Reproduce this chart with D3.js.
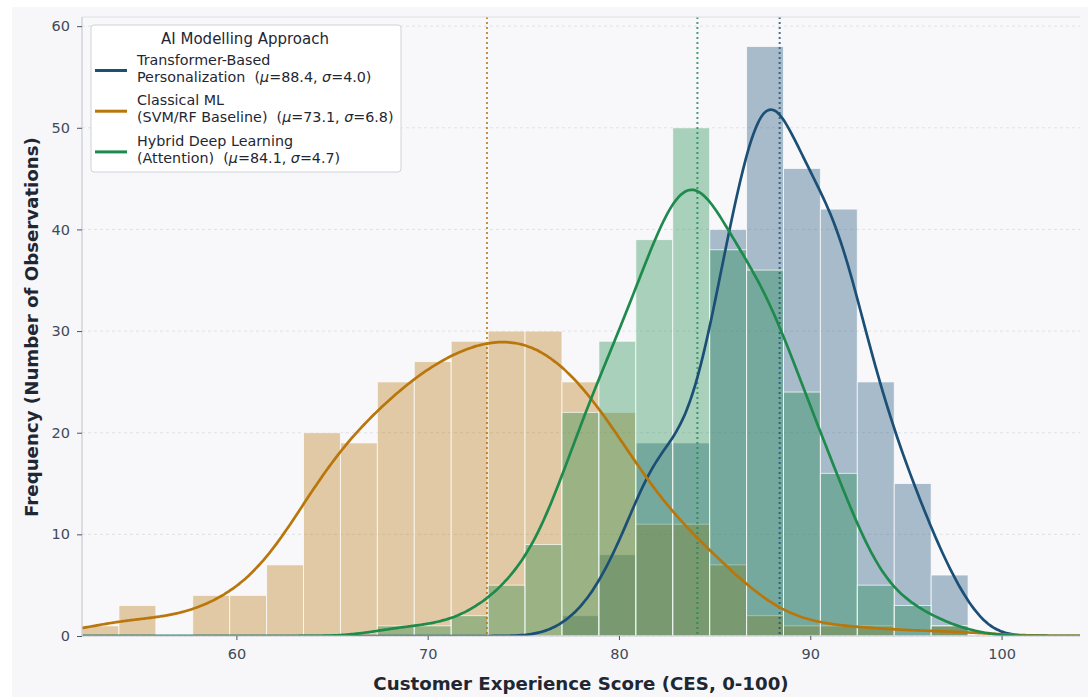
<!DOCTYPE html>
<html>
<head>
<meta charset="utf-8">
<script src="https://cdn.jsdelivr.net/npm/d3@7"></script>
<style>
  body { margin: 0; background: #ffffff; }
  svg { display: block; }
</style>
</head>
<body>
<svg id="chart" width="1088" height="697"></svg>
<script>
// ---- data -------------------------------------------------------------
// shared histogram bins over the CES score
const binStart = 51.93;
const binWidth = 1.93;
const binCount = 24;

// counts per bin for each modelling approach
const transformerCounts = [0, 0, 0, 0, 0, 0, 0, 0, 0, 0, 0, 0, 0, 2, 8, 19, 19, 40, 58, 46, 42, 25, 15, 6];
const classicalCounts   = [1, 3, 0, 4, 4, 7, 20, 19, 25, 27, 29, 30, 30, 25, 22, 11, 11, 7, 2, 1, 1, 1, 0, 1];
const hybridCounts      = [0, 0, 0, 0, 0, 0, 0, 0, 1, 1, 2, 5, 9, 22, 29, 39, 50, 38, 36, 24, 16, 5, 3, 1];

const seriesTitles = [
  ["Transformer-Based", "Personalization"],
  ["Classical ML", "(SVM/RF Baseline)"],
  ["Hybrid Deep Learning", "(Attention)"]
];
const seriesMeans  = [88.4, 73.1, 84.1];
const seriesSigmas = [4.0, 6.8, 4.7];
const seriesColors = ["#1b4f76", "#b8760b", "#1e8a4c"];

const xTicks = [60, 70, 80, 90, 100];
const yTicks = [0, 10, 20, 30, 40, 50, 60];
const xDomain = [51.93, 104.1];
const yDomain = [0, 60.9];

// ---- layout -----------------------------------------------------------
const W = 1088, H = 697;
const plot = { left: 82, right: 1080, top: 17, bottom: 636 };

const svg = d3.select("#chart");

// figure background
svg.append("rect").attr("x", 12).attr("y", 7).attr("width", W - 12).attr("height", H - 7)
  .attr("fill", "#f7f7f9");
svg.append("rect").attr("x", plot.left).attr("y", plot.top)
  .attr("width", plot.right - plot.left).attr("height", plot.bottom - plot.top)
  .attr("fill", "#f8f8fb");

const x = d3.scaleLinear().domain(xDomain).range([plot.left, plot.right]);
const y = d3.scaleLinear().domain(yDomain).range([plot.bottom, plot.top]);

const series = [transformerCounts, classicalCounts, hybridCounts].map((counts, i) => ({
  counts,
  bins: counts.map((c, k) => ({ x0: binStart + k * binWidth, x1: binStart + (k + 1) * binWidth, c })),
  title: seriesTitles[i],
  mean: seriesMeans[i],
  sigma: seriesSigmas[i],
  color: seriesColors[i]
}));

// clip for everything inside the axes
svg.append("clipPath").attr("id", "plotClip").append("rect")
  .attr("x", plot.left).attr("y", plot.top)
  .attr("width", plot.right - plot.left).attr("height", plot.bottom - plot.top);

// horizontal grid
const grid = svg.append("g");
grid.selectAll("line").data(yTicks).join("line")
  .attr("x1", plot.left).attr("x2", plot.right)
  .attr("y1", d => y(d)).attr("y2", d => y(d))
  .attr("stroke", "#d9dbe1").attr("stroke-width", 0.8).attr("stroke-dasharray", "3,3");

const inner = svg.append("g").attr("clip-path", "url(#plotClip)");

// histogram bars
series.forEach(s => {
  inner.append("g").selectAll("rect").data(s.bins.filter(b => b.c > 0)).join("rect")
    .attr("x", b => x(b.x0)).attr("width", b => x(b.x1) - x(b.x0))
    .attr("y", b => y(b.c)).attr("height", b => y(0) - y(b.c))
    .attr("fill", s.color).attr("fill-opacity", 0.36)
    .attr("stroke", "#ffffff").attr("stroke-opacity", 0.7).attr("stroke-width", 1);
});

// Gaussian kernel density estimate (Scott bandwidth) from the binned counts,
// scaled to counts per bin
function kdeCurve(s) {
  const n = d3.sum(s.counts);
  const centers = s.bins.map(b => (b.x0 + b.x1) / 2);
  const mean = d3.sum(s.bins, (b, k) => b.c * centers[k]) / n;
  const variance = d3.sum(s.bins, (b, k) => b.c * (centers[k] - mean) ** 2) / (n - 1);
  const h = Math.sqrt(variance) * Math.pow(n, -0.2);
  const grid = d3.range(xDomain[0], xDomain[1] + 0.001, (xDomain[1] - xDomain[0]) / 400);
  return grid.map(g => {
    let dens = 0;
    s.bins.forEach((b, k) => {
      if (b.c === 0) return;
      const z = (g - centers[k]) / h;
      dens += b.c * Math.exp(-0.5 * z * z);
    });
    dens /= (n * h * Math.sqrt(2 * Math.PI));
    return [g, dens * n * binWidth];
  });
}

const line = d3.line().x(d => x(d[0])).y(d => y(d[1])).curve(d3.curveBasis);

// mean markers
series.forEach(s => {
  inner.append("line")
    .attr("x1", x(s.mean)).attr("x2", x(s.mean))
    .attr("y1", plot.top).attr("y2", plot.bottom)
    .attr("stroke", s.color).attr("stroke-opacity", 0.8)
    .attr("stroke-width", 2).attr("stroke-dasharray", "2,3");
});

series.forEach(s => {
  inner.append("path").datum(kdeCurve(s))
    .attr("d", line).attr("fill", "none")
    .attr("stroke", s.color).attr("stroke-width", 2.7)
    .attr("stroke-linejoin", "round");
});

// spines
const spineColor = "#c9ccd3";
svg.append("line").attr("x1", plot.left).attr("x2", plot.left).attr("y1", plot.top).attr("y2", plot.bottom)
  .attr("stroke", spineColor).attr("stroke-width", 1.2);
svg.append("line").attr("x1", plot.left).attr("x2", plot.right).attr("y1", plot.bottom).attr("y2", plot.bottom)
  .attr("stroke", spineColor).attr("stroke-width", 1.2);
svg.append("line").attr("x1", plot.left).attr("x2", plot.right).attr("y1", plot.top).attr("y2", plot.top)
  .attr("stroke", "#dcdee3").attr("stroke-width", 1);

// axes
const tickFont = "'DejaVu Sans', sans-serif";
const xAxis = svg.append("g").attr("transform", `translate(0,${plot.bottom})`)
  .call(d3.axisBottom(x).tickValues(xTicks).tickSize(4).tickPadding(9).tickFormat(d3.format("d")));
const yAxis = svg.append("g").attr("transform", `translate(${plot.left},0)`)
  .call(d3.axisLeft(y).tickValues(yTicks).tickSize(5).tickPadding(7).tickFormat(d3.format("d")));
[xAxis, yAxis].forEach(a => {
  a.select(".domain").remove();
  a.selectAll(".tick line").attr("stroke", "#4a5363").attr("stroke-width", 1);
  a.selectAll(".tick text").attr("fill", "#3f4a5a")
    .style("font-family", tickFont).style("font-size", "14.5px");
});

// axis titles
svg.append("text")
  .attr("x", 581).attr("y", 690)
  .attr("text-anchor", "middle")
  .style("font-family", tickFont).style("font-weight", "bold").style("font-size", "18.2px")
  .attr("fill", "#1f2733")
  .text("Customer Experience Score (CES, 0-100)");

svg.append("text")
  .attr("transform", `translate(38,${327}) rotate(-90)`)
  .attr("text-anchor", "middle")
  .style("font-family", tickFont).style("font-weight", "bold").style("font-size", "18.2px")
  .attr("fill", "#1f2733")
  .text("Frequency (Number of Observations)");

// legend
const legend = svg.append("g");
legend.append("rect")
  .attr("x", 91).attr("y", 25).attr("width", 310).attr("height", 147).attr("rx", 3)
  .attr("fill", "#ffffff").attr("fill-opacity", 0.92)
  .attr("stroke", "#cfd2d8").attr("stroke-width", 1);
legend.append("text")
  .attr("x", 245).attr("y", 43.5).attr("text-anchor", "middle")
  .style("font-family", "'DejaVu Sans', sans-serif").style("font-size", "15px")
  .attr("fill", "#1f2733").text("AI Modelling Approach");

const legendFont = "'DejaVu Sans', sans-serif";
series.forEach((s, i) => {
  const top = 64.5 + i * 40.7;
  legend.append("line")
    .attr("x1", 95).attr("x2", 127).attr("y1", top + 6).attr("y2", top + 6)
    .attr("stroke", s.color).attr("stroke-width", 3);
  const t1 = legend.append("text").attr("x", 137).attr("y", top)
    .style("font-family", legendFont).style("font-size", "14.3px").attr("fill", "#1f2733");
  t1.text(s.title[0]);
  const t2 = legend.append("text").attr("x", 137).attr("y", top + 17.2)
    .style("font-family", legendFont).style("font-size", "14.3px").attr("fill", "#1f2733")
    .attr("xml:space", "preserve");
  t2.append("tspan").text(s.title[1] + "  (");
  t2.append("tspan").style("font-style", "italic").text("μ");
  t2.append("tspan").text("=" + s.mean.toFixed(1) + ", ");
  t2.append("tspan").style("font-style", "italic").text("σ");
  t2.append("tspan").text("=" + s.sigma.toFixed(1) + ")");
});
</script>
</body>
</html>
